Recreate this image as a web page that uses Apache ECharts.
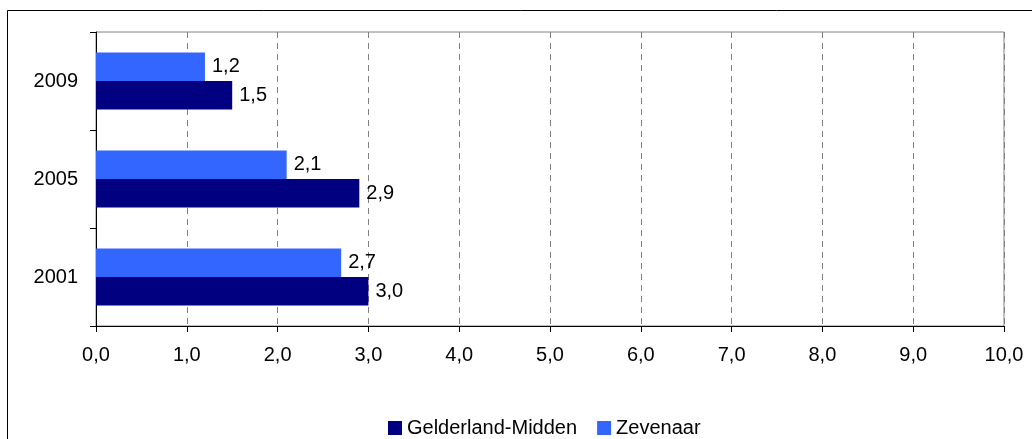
<!DOCTYPE html>
<html><head><meta charset="utf-8">
<script src="https://cdn.jsdelivr.net/npm/echarts@6/dist/echarts.min.js"></script>
<style>html,body{margin:0;padding:0;background:#fff}#c{width:1032px;height:439px}</style>
</head><body><div id="c"></div>
<script>
const categories = ['2001', '2005', '2009'];
const gelderlandMidden = [3.0, 2.9, 1.5];
const zevenaar = [2.7, 2.1, 1.2];
const seriesNames = ['Gelderland-Midden', 'Zevenaar'];
const fmt = v => Number(v).toFixed(1).replace('.', ',');
const font = 'Liberation Sans, Arial, sans-serif';
const fs = 20;
const chart = echarts.init(document.getElementById('c'), null, {renderer: 'canvas'});
const lbl = {show: true, position: 'right', distance: 7, formatter: p => fmt(p.value), fontSize: fs, color: '#000', fontFamily: font};
chart.setOption({
  animation: false,
  backgroundColor: '#fff',
  textStyle: {fontFamily: font},
  graphic: [{type: 'rect', shape: {x: 7.5, y: 10.5, width: 1200, height: 600}, style: {fill: 'none', stroke: '#000', lineWidth: 1}, silent: true}],
  grid: {left: 96, right: 28, top: 32, bottom: 113, show: true, borderColor: '#808080', borderWidth: 1, containLabel: false},
  legend: {
    left: 383, top: 413, itemWidth: 14, itemHeight: 14, itemGap: 20,
    icon: 'rect',
    textStyle: {fontSize: fs, color: '#000', fontFamily: font},
    data: seriesNames
  },
  xAxis: {
    type: 'value', min: 0, max: 10, interval: 1,
    axisLine: {show: true, lineStyle: {color: '#000', width: 1}},
    axisTick: {show: true, length: 6, lineStyle: {color: '#000'}},
    axisLabel: {formatter: fmt, fontSize: fs, color: '#000', margin: 19, fontFamily: font},
    splitLine: {show: true, lineStyle: {color: '#808080', type: [6, 5], width: 1}}
  },
  yAxis: {
    type: 'category', data: categories,
    axisLine: {show: true, lineStyle: {color: '#000', width: 1}},
    axisTick: {show: true, length: 6, lineStyle: {color: '#000'}},
    axisLabel: {fontSize: fs, color: '#000', margin: 18, fontFamily: font},
    splitLine: {show: false}
  },
  series: [
    {name: seriesNames[1], type: 'bar', data: zevenaar, barWidth: 28.5, barGap: '0%', barCategoryGap: '41%',
     itemStyle: {color: '#3366FF'}, label: lbl},
    {name: seriesNames[0], type: 'bar', data: gelderlandMidden, barWidth: 28.5, barGap: '0%', barCategoryGap: '41%',
     itemStyle: {color: '#000080'}, label: lbl}
  ]
});
</script></body></html>
